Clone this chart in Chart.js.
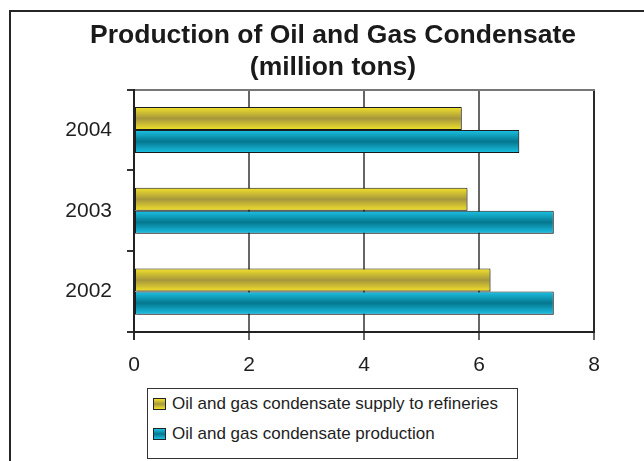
<!DOCTYPE html>
<html>
<head>
<meta charset="utf-8">
<script src="https://cdn.jsdelivr.net/npm/chart.js@4.4.1/dist/chart.umd.min.js"></script>
<style>
  html, body { margin: 0; padding: 0; background: #fff; overflow: hidden; }
  body { width: 644px; height: 461px; position: relative; font-family: Arial, "Liberation Sans", sans-serif; }
  #frame { position: absolute; left: 9px; top: 10px; width: 700px; height: 500px; border-left: 2px solid #262626; border-top: 2px solid #262626; }
  #chart { position: absolute; left: 0; top: 0; }
  #legend { position: absolute; left: 147px; top: 388px; width: 371px; height: 71px; box-sizing: border-box; border: 1.5px solid #333; background: #fff; }
  .item { position: absolute; left: 5px; height: 20px; display: flex; align-items: center; font-size: 17px; color: #1e1e1e; white-space: nowrap; }
  .swatch { width: 13px; height: 12px; box-sizing: border-box; border: 1px solid #222; margin-right: 6px; }
</style>
</head>
<body>
<div id="frame"></div>
<canvas id="chart" width="644" height="461"></canvas>
<div id="legend"></div>
<script>
// data, top to bottom as in the picture
var years = ['2004', '2003', '2002'];
var supplyToRefineries = [5.7, 5.8, 6.2];
var condensateProduction = [6.7, 7.3, 7.3];
var xTicks = [0, 2, 4, 6, 8];

var seriesNames = ['Oil and gas condensate supply to refineries', 'Oil and gas condensate production'];
// edge colour, middle colour (cylinder look)
var yellowShade = ['#f3e22a', '#a6973c'];
var cyanShade = ['#1cc3e6', '#05778f'];

// paints each bar with a vertical gradient using the bar's own position
var barShading = {
  id: 'barShading',
  beforeDatasetsDraw: function (chart) {
    var ctx = chart.ctx;
    chart.data.datasets.forEach(function (ds, i) {
      chart.getDatasetMeta(i).data.forEach(function (bar) {
        var top = bar.y - bar.height / 2,
          bottom = bar.y + bar.height / 2;
        var g = ctx.createLinearGradient(0, top, 0, bottom);
        g.addColorStop(0, ds.shade[0]);
        g.addColorStop(0.5, ds.shade[1]);
        g.addColorStop(1, ds.shade[0]);
        bar.options = Object.assign({}, bar.options, { backgroundColor: g });
      });
    });
    ctx.save();
    ctx.shadowColor = 'rgba(0,0,0,0.22)';
    ctx.shadowOffsetX = 2;
    ctx.shadowOffsetY = 2;
  },
  afterDatasetsDraw: function (chart) {
    chart.ctx.restore();
  }
};

var ctx = document.getElementById('chart').getContext('2d');
var chart = new Chart(ctx, {
  type: 'bar',
  data: {
    labels: years,
    datasets: [{
      label: seriesNames[0],
      data: supplyToRefineries,
      shade: yellowShade,
      backgroundColor: yellowShade[0],
      borderColor: '#1e1e1e',
      borderWidth: 1,
      borderSkipped: false,
      categoryPercentage: 0.57,
      barPercentage: 1.0
    }, {
      label: seriesNames[1],
      data: condensateProduction,
      shade: cyanShade,
      backgroundColor: cyanShade[0],
      borderColor: '#1e1e1e',
      borderWidth: 1,
      borderSkipped: false,
      categoryPercentage: 0.57,
      barPercentage: 1.0
    }]
  },
  options: {
    indexAxis: 'y',
    responsive: false,
    animation: false,
    devicePixelRatio: 1,
    layout: { padding: { left: 22, right: 0, top: 0, bottom: 79 } },
    plugins: {
      legend: { display: false },
      tooltip: { enabled: false },
      title: {
        display: true,
        text: ['Production of Oil and Gas Condensate', '(million tons)'],
        color: '#1a1a1a',
        font: { family: 'Arial', size: 26.5, weight: 'bold', lineHeight: 1.2 },
        padding: { top: 20, bottom: 6 }
      }
    },
    scales: {
      x: {
        type: 'linear',
        position: 'bottom',
        min: 0,
        max: 8,
        afterBuildTicks: function (scale) {
          scale.ticks = xTicks.map(function (v) { return { value: v }; });
        },
        afterFit: function (scale) { scale.height = 50; },
        grid: {
          color: function (c) { return c.tick && c.tick.value === 8 ? '#2a2a2a' : '#666'; },
          tickColor: function (c) { return c.tick && c.tick.value === 0 ? '#2a2a2a' : '#666'; },
          lineWidth: 2,
          tickLength: 8
        },
        border: { color: '#222', width: 2 },
        ticks: { color: '#1e1e1e', padding: 13, font: { family: 'Arial', size: 21 } }
      },
      x2: {
        type: 'linear',
        position: 'top',
        min: 0,
        max: 8,
        afterFit: function (scale) { scale.height = 0; },
        ticks: { display: false },
        grid: { drawOnChartArea: false, drawTicks: false, color: 'rgba(0,0,0,0)' },
        border: { color: '#777', width: 2 }
      },
      y: {
        type: 'category',
        position: 'left',
        afterFit: function (scale) { scale.width = 112; },
        grid: { offset: true, drawOnChartArea: false, tickLength: 7, color: '#333', lineWidth: 2 },
        border: { color: '#222', width: 2 },
        ticks: { color: '#1e1e1e', padding: 15, font: { family: 'Arial', size: 21 } }
      },
      y2: {
        type: 'linear',
        position: 'right',
        afterFit: function (scale) { scale.width = 50; },
        ticks: { display: false },
        grid: { display: false },
        border: { display: false }
      }
    }
  },
  plugins: [barShading]
});

// legend box below the plot, built from the chart's datasets
var legendBox = document.getElementById('legend');
chart.data.datasets.forEach(function (ds, i) {
  var item = document.createElement('div');
  item.className = 'item';
  item.style.top = (5 + i * 30) + 'px';
  var sw = document.createElement('span');
  sw.className = 'swatch';
  sw.style.background = 'linear-gradient(to bottom, ' + ds.shade[0] + ', ' + ds.shade[1] + ' 50%, ' + ds.shade[0] + ')';
  item.appendChild(sw);
  item.appendChild(document.createTextNode(ds.label));
  legendBox.appendChild(item);
});
</script>
</body>
</html>
